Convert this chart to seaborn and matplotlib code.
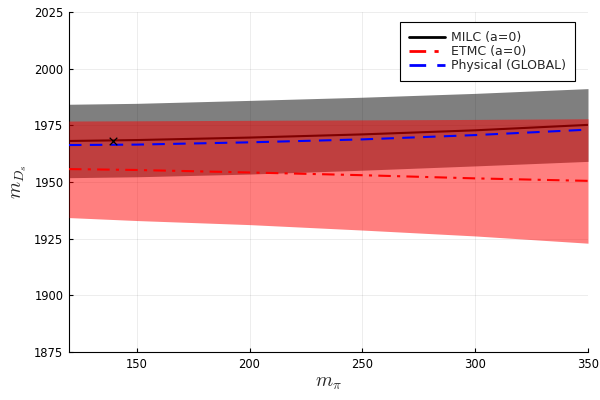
import numpy as np
import pandas as pd
import matplotlib
matplotlib.use("Agg")
import matplotlib.pyplot as plt
import seaborn as sns

# valeurs
m_pi = [120, 150, 200, 250, 300, 350]

milc = [1968.1, 1968.5, 1969.6, 1971.0, 1972.8, 1975.2]
milc_up = [1984.3, 1984.7, 1986.0, 1987.4, 1989.1, 1991.2]
milc_lo = [1951.9, 1952.3, 1953.5, 1955.2, 1957.1, 1959.1]

etmc = [1955.7, 1955.3, 1954.2, 1953.0, 1951.6, 1950.5]
etmc_up = [1976.9, 1977.0, 1977.2, 1977.4, 1977.6, 1977.9]
etmc_lo = [1934.3, 1933.0, 1931.2, 1928.8, 1926.2, 1923.0]

physical = [1966.3, 1966.5, 1967.5, 1968.8, 1970.7, 1973.1]

phys_point_x = [139.57]
phys_point_y = [1968.3]

x_ticks = [150, 200, 250, 300, 350]
y_ticks = [1875, 1900, 1925, 1950, 1975, 2000, 2025]

df = pd.DataFrame({"m_pi": m_pi, "milc": milc, "etmc": etmc, "physical": physical})

sns.set_theme(style="white")
plt.rcParams["font.family"] = ["DejaVu Sans"]
plt.rcParams["mathtext.fontset"] = "cm"

fig = plt.figure(figsize=(6, 4), dpi=100)
ax = fig.add_axes([0.115, 0.12, 0.865, 0.85])

# MILC d'abord, la bande ETMC passe par-dessus
ax.fill_between(m_pi, milc_lo, milc_up, color="black", alpha=0.5, linewidth=0, zorder=1)
sns.lineplot(data=df, x="m_pi", y="milc", ax=ax, color="black", linewidth=1.5,
             label="MILC (a=0)", zorder=2)
ax.fill_between(m_pi, etmc_lo, etmc_up, color="red", alpha=0.5, linewidth=0, zorder=3)
sns.lineplot(data=df, x="m_pi", y="etmc", ax=ax, color="red", linewidth=1.5,
             linestyle=(0, (6, 3, 1.5, 3)), label="ETMC (a=0)", zorder=4)
sns.lineplot(data=df, x="m_pi", y="physical", ax=ax, color="blue", linewidth=1.5,
             linestyle=(0, (6, 4)), label="Physical (GLOBAL)", zorder=5)
ax.scatter(phys_point_x, phys_point_y, marker="x", color="black", s=30,
           linewidths=0.9, zorder=6)

ax.set_xlim(120, 350)
ax.set_ylim(1875, 2025)
ax.set_xticks(x_ticks)
ax.set_yticks(y_ticks)
ax.tick_params(axis="both", direction="in", length=3, width=0.8, labelsize=8.3,
               colors="black", pad=4, left=True, bottom=True)
ax.grid(True, color="black", alpha=0.1, linewidth=0.5)
for side in ["top", "right"]:
    ax.spines[side].set_visible(False)
for side in ["left", "bottom"]:
    ax.spines[side].set_color("black")
    ax.spines[side].set_linewidth(0.8)

ax.set_xlabel(r"$m_\pi$", fontsize=14, labelpad=2)
ax.set_ylabel(r"$m_{D_s}$", fontsize=14, labelpad=4)

leg = ax.legend(loc="upper right", bbox_to_anchor=(0.975, 0.97), borderaxespad=0,
                fontsize=9, frameon=True, fancybox=False, framealpha=1,
                edgecolor="black", handlelength=2.9, handletextpad=0.5,
                labelspacing=0.1, borderpad=0.7)
leg.get_frame().set_linewidth(0.8)
for line in leg.get_lines():
    line.set_linewidth(2)

fig.savefig("out.png", dpi=100)
